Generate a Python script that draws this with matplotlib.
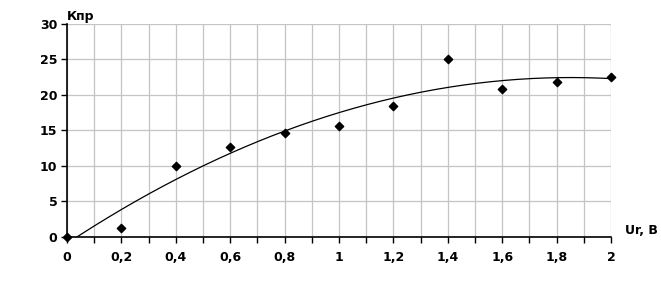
import numpy as np
import matplotlib.pyplot as plt

# measured points
u_vals = [0, 0.2, 0.4, 0.6, 0.8, 1.0, 1.2, 1.4, 1.6, 1.8, 2.0]
k_vals = [0, 1.3, 10.0, 12.7, 14.6, 15.6, 18.4, 25.0, 20.8, 21.8, 22.5]
x_tick_labels = ['0', '0,2', '0,4', '0,6', '0,8', '1', '1,2', '1,4', '1,6', '1,8', '2']

plt.rcParams['font.family'] = ['DejaVu Sans']
plt.rcParams['font.weight'] = 'bold'

fig = plt.figure(figsize=(6.61, 3.06), dpi=100)
ax = fig.add_axes([0.1014, 0.2255, 0.8230, 0.6961])

# polynomial trend line (2nd order) through the measured points
coef = np.polyfit(u_vals, k_vals, 2)
xs = np.linspace(0, 2, 200)
ys = np.polyval(coef, xs)
ax.plot(xs, ys, color='black', lw=0.9)

ax.scatter(u_vals, k_vals, marker='D', s=18, color='black', zorder=3, clip_on=False)

ax.set_xlim(0, 2)
ax.set_ylim(0, 30)
ax.set_xticks(np.arange(0, 2.01, 0.2))
ax.set_xticklabels(x_tick_labels)
ax.set_xticks(np.arange(0, 2.01, 0.1), minor=True)
ax.set_yticks(range(0, 31, 5))

ax.grid(True, which='both', axis='x', color='#c4c4c4', lw=0.9)
ax.grid(True, which='major', axis='y', color='#c4c4c4', lw=0.9)
ax.set_axisbelow(True)

for s in ['top', 'right']:
    ax.spines[s].set_visible(False)
for s in ['left', 'bottom']:
    ax.spines[s].set_color('black')
    ax.spines[s].set_linewidth(1.2)

ax.tick_params(axis='x', which='both', direction='out', length=4, width=1, pad=6, labelsize=9)
ax.tick_params(axis='y', direction='out', length=4, width=1, pad=3, labelsize=9)

fig.text(0.1014, 0.945, 'Кпр', fontsize=9, fontweight='bold', ha='left', va='center')
fig.text(0.945, 0.248, 'Ur, В', fontsize=9, fontweight='bold', ha='left', va='center')

fig.savefig('out.png', dpi=100, facecolor='white')
